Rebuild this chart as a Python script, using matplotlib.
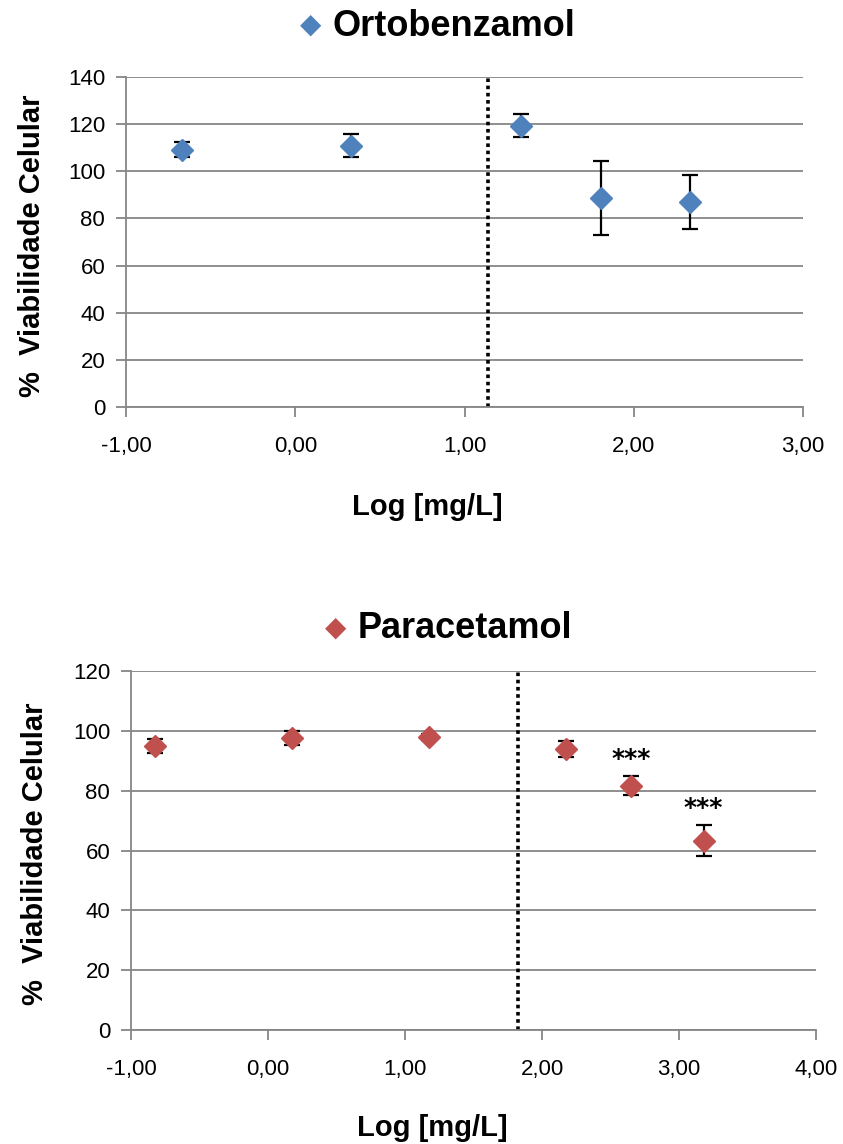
import matplotlib
matplotlib.use("Agg")
import matplotlib.pyplot as plt
from matplotlib.ticker import FuncFormatter

plt.rcParams['font.family'] = ['Liberation Sans', 'DejaVu Sans']

# ---- dados ----
orto_x = [-0.669, 0.331, 1.331, 1.807, 2.331]
orto_y = [109.2, 110.9, 119.4, 88.7, 87.0]
orto_err = [3.3, 4.8, 4.8, 15.7, 11.3]
orto_corte = 1.138

para_x = [-0.825, 0.175, 1.175, 2.175, 2.652, 3.179]
para_y = [94.9, 97.6, 97.8, 93.9, 81.7, 63.3]
para_err = [2.4, 2.3, 1.0, 2.7, 3.3, 5.3]
para_corte = 1.825
para_sig = ["", "", "", "", "***", "***"]

AZUL = "#4F81BD"
VERMELHO = "#C0504D"
CINZA = "#868686"


def virgula(v, pos):
    return f"{v:.2f}".replace(".", ",")


def desenha(ax, x, y, err, corte, cor, xlim, ylim, ystep, xlab_pos, ylab_pos, sig=None):
    ax.set_xlim(*xlim)
    ax.set_ylim(*ylim)
    ax.set_yticks(range(ylim[0], ylim[1] + 1, ystep))
    ax.set_xticks(range(xlim[0], xlim[1] + 1))
    ax.xaxis.set_major_formatter(FuncFormatter(virgula))
    ax.grid(axis="y", color=CINZA, linewidth=1.3)
    ax.set_axisbelow(True)
    for s in ["top", "right"]:
        ax.spines[s].set_visible(False)
    for s in ["left", "bottom"]:
        ax.spines[s].set_color(CINZA)
        ax.spines[s].set_linewidth(1.3)
    ax.tick_params(axis="both", colors=CINZA, length=7, width=1.3, labelsize=16,
                   labelcolor="black")
    ax.tick_params(axis="x", pad=14)
    ax.tick_params(axis="y", pad=8)
    ax.axvline(corte, color="black", linestyle=(0, (1, 1)), linewidth=2.6)
    ax.errorbar(x, y, yerr=err, fmt="none", ecolor="black", elinewidth=1.6,
                capsize=6, capthick=1.6, zorder=3)
    ax.plot(x, y, linestyle="none", marker="D", markersize=11, color=cor, zorder=4)
    if sig:
        for xi, yi, ei, s in zip(x, y, err, sig):
            if s:
                ax.text(xi, yi + ei + 1.5, s, ha="center", va="bottom",
                        fontsize=18, fontweight="bold", family="DejaVu Sans")
    ax.set_xlabel("Log [mg/L]", fontsize=21, fontweight="bold")
    ax.set_ylabel("%  Viabilidade Celular", fontsize=21, fontweight="bold")
    ax.xaxis.set_label_coords(*xlab_pos)
    ax.yaxis.set_label_coords(*ylab_pos)


fig = plt.figure(figsize=(8.43, 11.44), dpi=100)

ax1 = fig.add_axes([0.1495, 0.6442, 0.8031, 0.2885])
desenha(ax1, orto_x, orto_y, orto_err, orto_corte, AZUL, (-1, 3), (0, 140), 20,
        (0.445, -0.26), (-0.118, 0.49))

ax2 = fig.add_axes([0.1554, 0.0997, 0.8126, 0.3137])
desenha(ax2, para_x, para_y, para_err, para_corte, VERMELHO, (-1, 4), (0, 120), 20,
        (0.44, -0.235), (-0.12, 0.49), para_sig)

# títulos com o marcador de legenda
fig.text(0.5386, 1 - 26 / 1144, "Ortobenzamol", ha="center", va="center",
         fontsize=26, fontweight="bold")
fig.text(0.368, 1 - 25 / 1144, "\u25C6", ha="center", va="center",
         fontsize=20, color=AZUL, family="DejaVu Sans")
fig.text(0.5516, 1 - 629 / 1144, "Paracetamol", ha="center", va="center",
         fontsize=26, fontweight="bold")
fig.text(0.398, 1 - 628 / 1144, "\u25C6", ha="center", va="center",
         fontsize=20, color=VERMELHO, family="DejaVu Sans")

fig.savefig("out.png", dpi=100, facecolor="white")
